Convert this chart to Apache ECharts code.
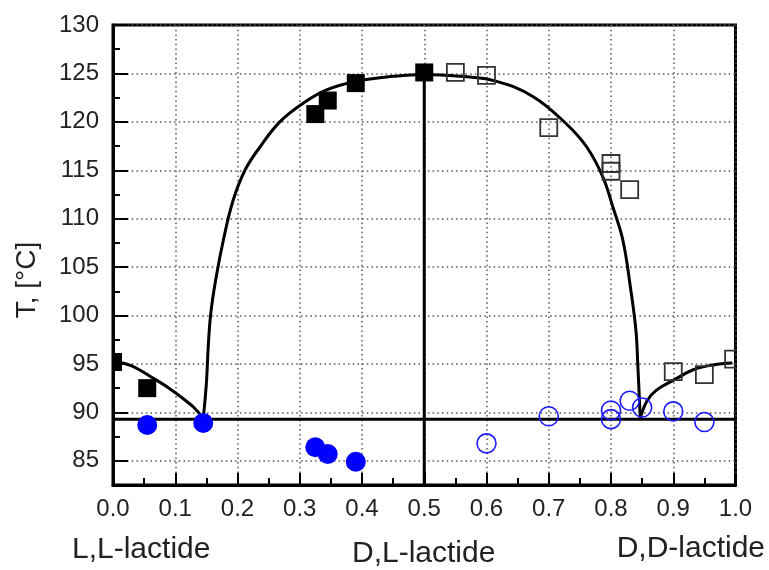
<!DOCTYPE html>
<html>
<head>
<meta charset="utf-8">
<script src="https://cdn.jsdelivr.net/npm/echarts@6/dist/echarts.min.js"></script>
<style>
html,body{margin:0;padding:0;background:#fff;}
#chart{width:769px;height:570px;}
</style>
</head>
<body>
<div id="chart"></div>
<script>
// ---- data ----
const xTickLabels = ['0.0','0.1','0.2','0.3','0.4','0.5','0.6','0.7','0.8','0.9','1.0'];
const yTickLabels = [85, 90, 95, 100, 105, 110, 115, 120, 125, 130];

const solidSqX = [0.0, 0.055, 0.325, 0.345, 0.39, 0.5];
const solidSqY = [95.2, 92.5, 120.8, 122.2, 124.0, 125.1];

const openSqX = [0.55, 0.6, 0.7, 0.8, 0.8, 0.83, 0.9, 0.95, 0.997];
const openSqY = [125.1, 124.8, 119.4, 115.7, 114.9, 113.0, 94.2, 93.9, 95.5];

const solidCircX = [0.055, 0.145, 0.325, 0.345, 0.39];
const solidCircY = [88.7, 88.9, 86.4, 85.7, 84.9];

const openCircX = [0.6, 0.7, 0.8, 0.8, 0.83, 0.85, 0.9, 0.95];
const openCircY = [86.8, 89.6, 90.2, 89.3, 91.2, 90.5, 90.1, 89.0];

const leftCurveX = [0, 0.03, 0.06, 0.09, 0.115, 0.13, 0.145];
const leftCurveY = [95.3, 94.8, 93.7, 92.5, 91.3, 90.5, 89.4];

const domeX = [0.145, 0.150, 0.153, 0.157, 0.165, 0.178, 0.193, 0.212, 0.236, 0.268, 0.305, 0.343, 0.391, 0.45, 0.5, 0.557, 0.615, 0.675, 0.728, 0.761, 0.787, 0.803, 0.819, 0.831, 0.840, 0.843, 0.847];
const domeY = [89.4, 93.0, 96.8, 100.2, 103.7, 108.0, 111.9, 115.0, 117.4, 120.0, 121.9, 123.3, 124.2, 124.7, 124.9, 124.7, 124.2, 122.6, 119.8, 117.4, 114.3, 111.2, 107.8, 103.0, 98.5, 95.0, 89.4];

const rightCurveX = [0.847, 0.858, 0.873, 0.9, 0.932, 0.964, 0.995];
const rightCurveY = [89.4, 91.2, 92.3, 93.3, 94.4, 94.9, 95.1];

const eutecticX = [0, 1];
const eutecticY = [89.3, 89.3];

const racemicX = [0.5, 0.5];
const racemicY = [82.5, 124.9];

const bottomLabels = ['L,L-lactide', 'D,L-lactide', 'D,D-lactide'];
const yTitle = 'T, [°C]';

function zip(xs, ys) { return xs.map((x, i) => [x, ys[i]]); }

const chart = echarts.init(document.getElementById('chart'), null, {renderer: 'canvas'});
const FONT = 'Liberation Sans, Arial, sans-serif';

const lineStyleBase = {color: '#000', width: 3};

function squareRenderer(size, style) {
  return function (params, api) {
    const c = api.coord([api.value(0), api.value(1)]);
    return {
      type: 'rect',
      shape: {x: c[0] - size / 2, y: c[1] - size / 2, width: size, height: size},
      style: style
    };
  };
}

const option = {
  backgroundColor: '#fff',
  animation: false,
  grid: {left: 113, right: 33.5, top: 25, bottom: 85, show: true, borderColor: '#000', borderWidth: 3, backgroundColor: 'transparent'},
  xAxis: {
    type: 'value', min: 0, max: 1, interval: 0.1,
    axisLine: {show: true, lineStyle: {color: '#000', width: 3}},
    axisTick: {show: true, inside: true, length: 12, lineStyle: {color: '#000', width: 2}},
    minorTick: {show: true, splitNumber: 2, length: 7, lineStyle: {color: '#000', width: 2}},
    axisLabel: {fontFamily: FONT, fontSize: 24, color: '#222', margin: 12,
      formatter: v => xTickLabels[Math.round(v * 10)] || ''},
    splitLine: {show: true, lineStyle: {color: '#555', width: 1.5, type: [1.5, 3.2]}}
  },
  yAxis: {
    type: 'value', min: 82.5, max: 130, splitNumber: 10,
    axisLine: {show: true, lineStyle: {color: '#000', width: 3}},
    axisTick: {show: true, inside: true, length: 15, lineStyle: {color: '#000', width: 2}},
    minorTick: {show: true, splitNumber: 2, length: 7, lineStyle: {color: '#000', width: 2}},
    axisLabel: {fontFamily: FONT, fontSize: 24, color: '#222', margin: 14,
      formatter: v => yTickLabels.indexOf(Math.round(v * 10) / 10) >= 0 ? String(v) : ''},
    splitLine: {show: true, lineStyle: {color: '#555', width: 1.5, type: [1.5, 3.2]}}
  },
  graphic: [
    {type: 'text', x: 27, y: 280, rotation: Math.PI / 2,
      style: {text: yTitle, font: '28px ' + FONT, fill: '#222', align: 'center', verticalAlign: 'middle'}},
    {type: 'text', x: 72, y: 550,
      style: {text: bottomLabels[0], font: '30px ' + FONT, fill: '#222', align: 'left', verticalAlign: 'middle'}},
    {type: 'text', x: 352, y: 554,
      style: {text: bottomLabels[1], font: '30px ' + FONT, fill: '#222', align: 'left', verticalAlign: 'middle'}},
    {type: 'text', x: 765, y: 549,
      style: {text: bottomLabels[2], font: '30px ' + FONT, fill: '#222', align: 'right', verticalAlign: 'middle'}}
  ],
  series: [
    {type: 'line', data: zip(eutecticX, eutecticY), symbol: 'none', lineStyle: lineStyleBase, z: 2},
    {type: 'line', data: zip(racemicX, racemicY), symbol: 'none', lineStyle: lineStyleBase, z: 2},
    {type: 'line', data: zip(leftCurveX, leftCurveY), symbol: 'none', smooth: 0.4, lineStyle: {color: '#000', width: 3}, z: 2},
    {type: 'line', data: zip(domeX, domeY), symbol: 'none', smooth: 0.4, lineStyle: {color: '#000', width: 3}, z: 2},
    {type: 'line', data: zip(rightCurveX, rightCurveY), symbol: 'none', smooth: 0.4, lineStyle: {color: '#000', width: 3}, z: 2},
    {type: 'custom', data: zip(solidSqX, solidSqY), clip: true, z: 3,
      renderItem: squareRenderer(18, {fill: '#000', stroke: null})},
    {type: 'custom', data: zip(openSqX, openSqY), clip: true, z: 3,
      renderItem: squareRenderer(17, {fill: 'transparent', stroke: '#333', lineWidth: 1.8})},
    {type: 'scatter', data: zip(solidCircX, solidCircY), symbol: 'circle', symbolSize: 20,
      itemStyle: {color: '#0000ff', opacity: 1}, z: 3},
    {type: 'scatter', data: zip(openCircX, openCircY), symbol: 'circle', symbolSize: 19,
      itemStyle: {color: 'transparent', borderColor: '#1a1aff', borderWidth: 1.6, opacity: 1}, z: 3}
  ]
};
chart.setOption(option);
</script>
</body>
</html>
